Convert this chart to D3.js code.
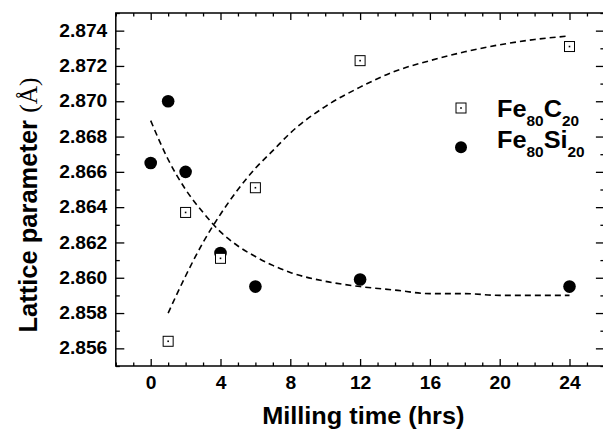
<!DOCTYPE html>
<html><head><meta charset="utf-8">
<script src="https://cdn.jsdelivr.net/npm/d3@7"></script>
<style>
body{margin:0;background:#fff}
svg text{font-family:"Liberation Sans",Arial,Helvetica,sans-serif;font-weight:bold;fill:#000}
</style>
</head><body><svg id="c" width="603" height="429"></svg>
<script>
// ---- data ----
const feC_time = [1, 2, 4, 6, 12, 24];
const feC = [2.8564, 2.8637, 2.8611, 2.8651, 2.8723, 2.8731];
const feSi_time = [0, 1, 2, 4, 6, 12, 24];
const feSi = [2.8665, 2.8700, 2.8660, 2.8614, 2.8595, 2.8599, 2.8595];
// dashed fit curves
const fitC_time = [1, 2, 3, 4, 5, 6, 7, 8, 10, 12, 14, 16, 18, 20, 22, 24];
const fitC = [2.8580, 2.8601, 2.8620, 2.8636, 2.8650, 2.8662, 2.8672, 2.8682, 2.8697, 2.8708, 2.8717, 2.8723, 2.8728, 2.8732, 2.8735, 2.8737];
const fitSi_time = [0, 1, 2, 3, 4, 5, 6, 7, 8, 10, 12, 14, 16, 18, 20, 22, 24];
const fitSi = [2.8689, 2.8667, 2.8650, 2.8637, 2.8626, 2.8618, 2.8612, 2.8607, 2.8603, 2.8598, 2.8595, 2.8593, 2.8591, 2.8591, 2.8590, 2.8590, 2.8590];
const xTickValues = [0, 4, 8, 12, 16, 20, 24];
const xTickLabels = ["0", "4", "8", "12", "16", "20", "24"];
const yTickValues = [2.856, 2.858, 2.860, 2.862, 2.864, 2.866, 2.868, 2.870, 2.872, 2.874];
const yTickLabels = ["2.856", "2.858", "2.860", "2.862", "2.864", "2.866", "2.868", "2.870", "2.872", "2.874"];
const xTitle = "Milling time (hrs)";
const yTitle = "Lattice parameter";
const yUnit = "(Å)";

// ---- layout ----
const L = 115.8, R = 604.4, T = 13, B = 366;
const SX = 1.1; // horizontal text stretch
const svg = d3.select("#c");
const x = d3.scaleLinear([-2, 26], [L, R]);
const y = d3.scaleLinear([2.855, 2.875], [B, T]);

const xMinor = d3.range(-2, 27, 1).filter(v => !xTickValues.includes(v));
const yMinor = d3.range(0, 21).map(i => +(2.855 + i * 0.001).toFixed(3)).filter(v => !yTickValues.some(t => Math.abs(t - v) < 1e-9));

function styleAxis(g) {
  g.select(".domain").remove();
  g.selectAll(".tick line").attr("stroke", "#000").attr("stroke-width", 1.3);
}
// bottom
svg.append("g").attr("transform", `translate(0,${B})`)
  .call(d3.axisBottom(x).tickValues(xMinor).tickSize(-3.5).tickFormat("")).call(styleAxis);
const gx = svg.append("g").attr("transform", `translate(0,${B})`)
  .call(d3.axisBottom(x).tickValues(xTickValues).tickSize(-7).tickPadding(10.7)
    .tickFormat((d, i) => xTickLabels[i])).call(styleAxis);
gx.selectAll("text").attr("font-size", 17.5).attr("font-family", null)
  .attr("transform", `scale(${SX},1)`);
// top
svg.append("g").attr("transform", `translate(0,${T})`)
  .call(d3.axisTop(x).tickValues(xMinor).tickSize(-3.5).tickFormat("")).call(styleAxis);
svg.append("g").attr("transform", `translate(0,${T})`)
  .call(d3.axisTop(x).tickValues(xTickValues).tickSize(-7).tickFormat("")).call(styleAxis);
// left
svg.append("g").attr("transform", `translate(${L},0)`)
  .call(d3.axisLeft(y).tickValues(yMinor).tickSize(-4).tickFormat("")).call(styleAxis);
const gy = svg.append("g").attr("transform", `translate(${L},0)`)
  .call(d3.axisLeft(y).tickValues(yTickValues).tickSize(-8.5).tickPadding(8.5)
    .tickFormat((d, i) => yTickLabels[i])).call(styleAxis);
gy.selectAll("text").attr("font-size", 17.5).attr("font-family", null)
  .attr("x", -8.5 / SX).attr("transform", `scale(${SX},1)`);
// right
svg.append("g").attr("transform", `translate(${R},0)`)
  .call(d3.axisRight(y).tickValues(yMinor).tickSize(-4).tickFormat("")).call(styleAxis);
svg.append("g").attr("transform", `translate(${R},0)`)
  .call(d3.axisRight(y).tickValues(yTickValues).tickSize(-8.5).tickFormat("")).call(styleAxis);

// frame
svg.append("rect").attr("x", L).attr("y", T).attr("width", R - L).attr("height", B - T)
  .attr("fill", "none").attr("stroke", "#000").attr("stroke-width", 1.5);

// fit curves
const line = d3.line().x(d => x(d[0])).y(d => y(d[1])).curve(d3.curveMonotoneX);
svg.append("path").datum(fitC_time.map((t, i) => [t, fitC[i]])).attr("d", line)
  .attr("fill", "none").attr("stroke", "#000").attr("stroke-width", 1.6).attr("stroke-dasharray", "6,4");
svg.append("path").datum(fitSi_time.map((t, i) => [t, fitSi[i]])).attr("d", line)
  .attr("fill", "none").attr("stroke", "#000").attr("stroke-width", 1.6).attr("stroke-dasharray", "6,4");

// markers
function square(g, cx, cy) {
  g.append("rect").attr("x", cx - 5).attr("y", cy - 5).attr("width", 10).attr("height", 10)
    .attr("fill", "#fff").attr("stroke", "#000").attr("stroke-width", 1);
  g.append("rect").attr("x", cx - 0.8).attr("y", cy - 0.8).attr("width", 1.6).attr("height", 1.6).attr("fill", "#000");
}
const gm = svg.append("g");
feSi_time.forEach((t, i) => {
  gm.append("circle").attr("cx", x(t)).attr("cy", y(feSi[i])).attr("r", 6.3).attr("fill", "#000");
});
feC_time.forEach((t, i) => square(gm, x(t), y(feC[i])));

// legend
square(svg, 461, 108);
svg.append("circle").attr("cx", 461).attr("cy", 147.3).attr("r", 6).attr("fill", "#000");
function legendText(cy, main, sub1, el, sub2) {
  const t = svg.append("text").attr("transform", `translate(497,${cy}) scale(${SX},1)`).attr("font-size", 23);
  t.append("tspan").text(main);
  t.append("tspan").attr("font-size", 14).attr("dy", 9).text(sub1);
  t.append("tspan").attr("font-size", 23).attr("dy", -9).text(el);
  t.append("tspan").attr("font-size", 14).attr("dy", 9).text(sub2);
}
legendText(116.7, "Fe", "80", "C", "20");
legendText(148.3, "Fe", "80", "Si", "20");

// axis titles
svg.append("text").attr("transform", `translate(363.3,424) scale(${SX},1)`)
  .attr("text-anchor", "middle").attr("font-size", 23).text(xTitle);
const yt = svg.append("text").attr("transform", "translate(36.5,205) rotate(-90)")
  .attr("text-anchor", "middle").attr("font-size", 25.5);
yt.append("tspan").text(yTitle + " ");
yt.append("tspan").attr("font-family", "'Liberation Serif','Times New Roman',serif").attr("font-weight", "normal").text(yUnit);
</script>
</body></html>
